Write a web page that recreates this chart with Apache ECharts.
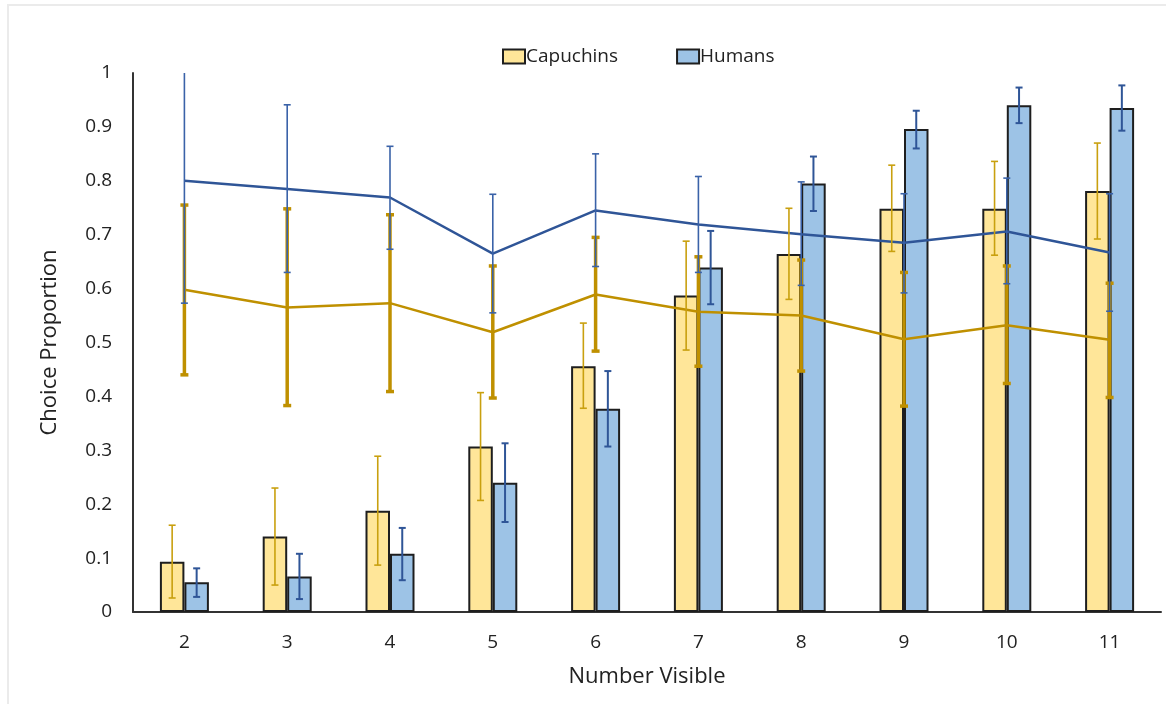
<!DOCTYPE html>
<html>
<head>
<meta charset="utf-8">
<script src="https://cdn.jsdelivr.net/npm/echarts@6/dist/echarts.min.js"></script>
<style>
html,body{margin:0;padding:0;background:#fff;}
#frame{position:absolute;left:7px;top:4px;width:1200px;height:760px;border-left:2px solid #ebebeb;border-top:2px solid #ebebeb;}
#chart{position:absolute;left:0;top:0;width:1166px;height:704px;}
</style>
</head>
<body>
<div id="frame"></div>
<div id="chart"></div>
<script>
const categories = ['2','3','4','5','6','7','8','9','10','11'];

const capuchinBar   = [0.093, 0.140, 0.188, 0.307, 0.456, 0.587, 0.664, 0.748, 0.748, 0.781];
const capuchinBarHi = [0.161, 0.230, 0.289, 0.407, 0.536, 0.688, 0.749, 0.829, 0.836, 0.870];
const capuchinBarLo = [0.026, 0.050, 0.087, 0.207, 0.378, 0.486, 0.580, 0.669, 0.662, 0.692];

const humanBar   = [0.055, 0.066, 0.108, 0.240, 0.377, 0.639, 0.795, 0.896, 0.940, 0.935];
const humanBarHi = [0.081, 0.108, 0.156, 0.313, 0.447, 0.707, 0.845, 0.930, 0.973, 0.977];
const humanBarLo = [0.028, 0.024, 0.059, 0.167, 0.307, 0.571, 0.744, 0.860, 0.907, 0.893];

const capuchinLine   = [0.598, 0.565, 0.573, 0.519, 0.589, 0.557, 0.550, 0.506, 0.532, 0.505];
const capuchinLineHi = [0.755, 0.748, 0.737, 0.642, 0.695, 0.659, 0.653, 0.630, 0.642, 0.610];
const capuchinLineLo = [0.440, 0.383, 0.409, 0.397, 0.484, 0.456, 0.447, 0.382, 0.424, 0.398];

const humanLine   = [0.800, 0.785, 0.769, 0.665, 0.745, 0.719, 0.701, 0.685, 0.706, 0.667];
const humanLineHi = [1.027, 0.941, 0.864, 0.775, 0.850, 0.808, 0.798, 0.776, 0.805, 0.776];
const humanLineLo = [0.573, 0.630, 0.673, 0.555, 0.641, 0.630, 0.606, 0.592, 0.609, 0.558];

const BAR_W = 24.5;
const FONT = 'Open Sans';

function errData(lo, hi) {
  return categories.map((c, i) => [i, lo[i], hi[i]]);
}

function errSeries(name, data, shift, color, width, capHalf, z) {
  return {
    name: name,
    type: 'custom',
    clip: true,
    z: z,
    silent: true,
    encode: { x: 0, y: [1, 2] },
    data: data,
    renderItem: function (params, api) {
      const idx = api.value(0);
      const lo = api.coord([idx, api.value(1)]);
      const hi = api.coord([idx, api.value(2)]);
      const x = lo[0] + shift * BAR_W / 2;
      const style = { stroke: color, lineWidth: width, fill: null };
      return {
        type: 'group',
        children: [
          { type: 'line', shape: { x1: x, y1: hi[1], x2: x, y2: lo[1] }, style: style },
          { type: 'line', shape: { x1: x - capHalf, y1: hi[1], x2: x + capHalf, y2: hi[1] }, style: style },
          { type: 'line', shape: { x1: x - capHalf, y1: lo[1], x2: x + capHalf, y2: lo[1] }, style: style }
        ]
      };
    }
  };
}

const chart = echarts.init(document.getElementById('chart'), null, { renderer: 'canvas' });

chart.setOption({
  backgroundColor: 'transparent',
  animation: false,
  grid: { left: 133, right: 5, top: 73, bottom: 92, containLabel: false },
  legend: {
    data: ['Capuchins', 'Humans'],
    left: 497,
    top: 42,
    itemWidth: 22,
    itemHeight: 14,
    itemGap: 58,
    icon: 'rect',
    textStyle: { fontFamily: FONT, fontSize: 19, color: '#222', padding: [0, 0, 0, -4] }
  },
  xAxis: {
    type: 'category',
    data: categories,
    boundaryGap: true,
    name: 'Number Visible',
    nameLocation: 'middle',
    nameGap: 54,
    nameTextStyle: { fontFamily: FONT, fontSize: 22, color: '#222' },
    axisLine: { lineStyle: { color: '#333', width: 2 } },
    axisTick: { show: false },
    axisLabel: { fontFamily: FONT, fontSize: 19, color: '#222', margin: 21 }
  },
  yAxis: {
    type: 'value',
    min: 0,
    max: 1,
    interval: 0.1,
    name: 'Choice Proportion',
    nameLocation: 'middle',
    nameGap: 72,
    nameTextStyle: { fontFamily: FONT, fontSize: 22, color: '#222' },
    axisLine: { show: true, lineStyle: { color: '#333', width: 2 } },
    axisTick: { show: false },
    splitLine: { show: false },
    axisLabel: { fontFamily: FONT, fontSize: 19, color: '#222', margin: 21 }
  },
  series: [
    {
      name: 'Capuchins', type: 'bar', data: capuchinBar, barWidth: BAR_W, barGap: '0%', z: 2,
      itemStyle: { color: '#FFE699', borderColor: '#1e1e1e', borderWidth: 2 }
    },
    {
      name: 'Humans', type: 'bar', data: humanBar, barWidth: BAR_W, barGap: '0%', z: 2,
      itemStyle: { color: '#9DC3E6', borderColor: '#1e1e1e', borderWidth: 2 }
    },
    {
      name: 'CapuchinLine', type: 'line', data: capuchinLine, symbol: 'none', z: 3,
      lineStyle: { color: '#BF9000', width: 2.5 }, itemStyle: { color: '#BF9000' }
    },
    {
      name: 'HumanLine', type: 'line', data: humanLine, symbol: 'none', z: 3,
      lineStyle: { color: '#2F5597', width: 2.5 }, itemStyle: { color: '#2F5597' }
    },
    errSeries('capBarErr', errData(capuchinBarLo, capuchinBarHi), -1, '#C9A00F', 1.6, 3.5, 4),
    errSeries('humBarErr', errData(humanBarLo, humanBarHi), 1, '#2F5597', 2, 3.5, 4),
    errSeries('capLineErr', errData(capuchinLineLo, capuchinLineHi), 0, '#BF9000', 3.5, 4, 5),
    errSeries('humLineErr', errData(humanLineLo, humanLineHi), 0, '#3A62A8', 1.6, 3.5, 6)
  ]
});
</script>
</body>
</html>
